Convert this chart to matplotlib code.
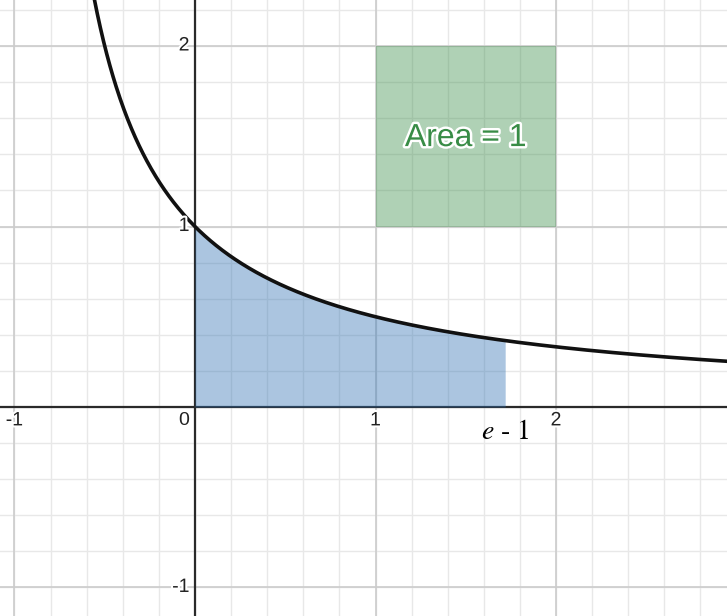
import numpy as np
import matplotlib
matplotlib.use("Agg")
import matplotlib.pyplot as plt
import matplotlib.patheffects as pe

# ---- data ----
x_range = (-1.08, 2.947)
y_range = (-1.158, 2.255)
x_tick_values = [-1, 0, 1, 2]
x_tick_labels = ["-1", "0", "1", "2"]
y_tick_values = [-1, 1, 2]
y_tick_labels = ["-1", "1", "2"]
square_x = [1, 2]
square_y = [1, 2]
fill_upper = np.e - 1
area_text = "Area = 1"
limit_text = "$e$ - 1"


def curve(x):
    return 1.0 / (1.0 + x)


plt.rcParams["mathtext.fontset"] = "stix"

fig = plt.figure(figsize=(7.27, 6.16), dpi=100)
ax = fig.add_axes([0, 0, 1, 1])
ax.set_xlim(*x_range)
ax.set_ylim(*y_range)
for s in ax.spines.values():
    s.set_visible(False)
ax.set_xticks([])
ax.set_yticks([])

# grid
minor = np.arange(-1.2, 3.01, 0.2)
for v in minor:
    ax.axvline(v, color="#e8e8e8", lw=1.0, zorder=0)
    ax.axhline(v, color="#e8e8e8", lw=1.0, zorder=0)
for v in range(-1, 4):
    ax.axvline(v, color="#cccccc", lw=1.2, zorder=0.5)
    ax.axhline(v, color="#cccccc", lw=1.2, zorder=0.5)
ax.axhline(0, color="#2a2a2a", lw=1.6, zorder=1)
ax.axvline(0, color="#2a2a2a", lw=1.6, zorder=1)

# green square
ax.fill_between(square_x, square_y[0], square_y[1], color="#388c46", alpha=0.4,
                lw=0, zorder=2)

# blue area
xf = np.linspace(0, fill_upper, 300)
ax.fill_between(xf, 0, curve(xf), color="#2d70b3", alpha=0.4, lw=0, zorder=2)

# curve
xc = np.linspace(-0.57, x_range[1], 1000)
ax.plot(xc, curve(xc), color="#111111", lw=2.6, zorder=3, solid_capstyle="round")

# tick labels
fs = 14
for v, t in zip(x_tick_values, x_tick_labels):
    if v == 0:
        ax.text(-0.035, -0.03, t, ha="right", va="top", fontsize=fs,
                family="Liberation Sans", color="#222222", zorder=4)
    else:
        ax.text(v, -0.03, t, ha="center", va="top", fontsize=fs,
                family="Liberation Sans", color="#222222", zorder=4,
                path_effects=[pe.withStroke(linewidth=3, foreground="white")])
for v, t in zip(y_tick_values, y_tick_labels):
    ax.text(-0.03, v, t, ha="right", va="center", fontsize=fs,
            family="Liberation Sans", color="#222222", zorder=4,
            path_effects=[pe.withStroke(linewidth=3, foreground="white")])

ax.text(1.5, 1.49, area_text, ha="center", va="center", fontsize=23,
        family="Liberation Sans", color="#388c46", zorder=5,
        path_effects=[pe.withStroke(linewidth=3.5, foreground="white")])

ax.text(1.72, -0.14, limit_text, ha="center", va="center", fontsize=20,
        family="STIXGeneral", color="black", zorder=5)

fig.savefig("out.png", dpi=100)
